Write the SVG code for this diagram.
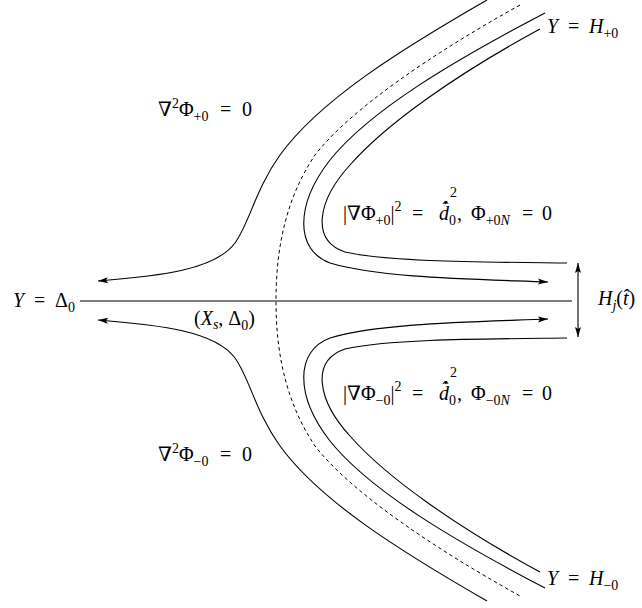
<svg xmlns="http://www.w3.org/2000/svg" width="642" height="608" viewBox="0 0 642 608">
<style>
.ln{fill:none;stroke:#000;stroke-width:1.1}
.dash{fill:none;stroke:#000;stroke-width:1;stroke-dasharray:3.5,3}
text{font-family:"Liberation Serif","DejaVu Serif",serif;font-size:20px;fill:#000}
.i{font-style:italic}
.s{font-size:14px}
</style>
<defs>
<marker id="ah" markerUnits="userSpaceOnUse" markerWidth="11" markerHeight="7" refX="10" refY="3" orient="auto-start-reverse" overflow="visible">
<path d="M0,0 L10,3 L0,6 L2,3 z" fill="#000"/>
</marker>
</defs>
<rect width="642" height="608" fill="#fff"/>
<g id="connectors">
<line class="ln" x1="80" y1="301" x2="572" y2="301"/>
<path class="ln" marker-start="url(#ah)" d="M98,281 C160,276 215,270 235,243 C250,222 255,190 280,155 C320,100 400,50 487,0"/>
<path class="ln" marker-start="url(#ah)" d="M98,320 C160,325 215,331 235,358 C250,379 255,411 280,446 C320,501 400,551 487,601"/>
<path class="dash" d="M520,5 C430,55 350,110 315,155 C285,200 276,250 276,301 C276,351 285,401 315,446 C350,491 430,546 520,596"/>
<path class="ln" marker-end="url(#ah)" d="M545,13 C455,60 370,110 330,160 C295,205 295,250 330,263 C380,278 470,279 548,282"/>
<path class="ln" marker-end="url(#ah)" d="M545,588 C455,541 370,491 330,441 C295,396 295,351 330,338 C380,323 470,322 548,319"/>
<path class="ln" d="M540,29 C455,75 385,125 350,165 C318,200 310,240 345,252 C390,262 480,262 567,263"/>
<path class="ln" d="M540,572 C455,526 385,476 350,436 C318,401 310,361 345,349 C390,339 480,339 567,338"/>
<line class="ln" marker-start="url(#ah)" marker-end="url(#ah)" x1="578" y1="263" x2="578" y2="337"/>
</g>
<g id="label-laplace-plus">
<text y="116"><tspan x="158">∇</tspan><tspan class="s" dy="-8">2</tspan><tspan dy="8">Φ</tspan><tspan class="s" dy="5">+0</tspan><tspan x="220" dy="-5">=</tspan><tspan x="242">0</tspan></text>
</g>
<g id="label-laplace-minus">
<text y="461"><tspan x="158">∇</tspan><tspan class="s" dy="-8">2</tspan><tspan dy="8">Φ</tspan><tspan class="s" dy="5">−0</tspan><tspan x="220" dy="-5">=</tspan><tspan x="242">0</tspan></text>
</g>
<g id="label-eikonal-plus">
<text><tspan x="343" y="220">|∇Φ</tspan><tspan class="s" y="225">+0</tspan><tspan y="220">|</tspan><tspan class="s" y="211">2</tspan><tspan x="412" y="220">=</tspan><tspan class="i" x="439" y="220">d̂̇</tspan><tspan class="s" x="450" y="197">2</tspan><tspan class="s" x="449" y="225">0</tspan><tspan x="457" y="220">,</tspan><tspan x="471" y="220">Φ</tspan><tspan class="s" y="225">+0</tspan><tspan class="s i">N</tspan><tspan x="522" y="220">=</tspan><tspan x="542">0</tspan></text>
</g>
<g id="label-eikonal-minus">
<text><tspan x="343" y="400">|∇Φ</tspan><tspan class="s" y="405">−0</tspan><tspan y="400">|</tspan><tspan class="s" y="391">2</tspan><tspan x="412" y="400">=</tspan><tspan class="i" x="439" y="400">d̂̇</tspan><tspan class="s" x="450" y="377">2</tspan><tspan class="s" x="449" y="405">0</tspan><tspan x="457" y="400">,</tspan><tspan x="471" y="400">Φ</tspan><tspan class="s" y="405">−0</tspan><tspan class="s i">N</tspan><tspan x="522" y="400">=</tspan><tspan x="542">0</tspan></text>
</g>
<g id="label-axis">
<text y="307"><tspan class="i" x="13">Y</tspan><tspan x="34">=</tspan><tspan x="55">Δ</tspan><tspan class="s" dy="5">0</tspan></text>
</g>
<g id="label-stagnation">
<text y="325"><tspan x="194">(</tspan><tspan class="i">X</tspan><tspan class="s i" dy="4">s</tspan><tspan dy="-4">, Δ</tspan><tspan class="s" dy="5">0</tspan><tspan dy="-5">)</tspan></text>
</g>
<g id="label-H-plus">
<text y="33"><tspan class="i" x="547">Y</tspan><tspan x="568">=</tspan><tspan class="i" x="589">H</tspan><tspan class="s" dy="5">+0</tspan></text>
</g>
<g id="label-H-minus">
<text y="585"><tspan class="i" x="547">Y</tspan><tspan x="568">=</tspan><tspan class="i" x="589">H</tspan><tspan class="s" dy="5">−0</tspan></text>
</g>
<g id="label-Hj">
<text><tspan class="i" x="598" y="305">H</tspan><tspan class="s i" y="310">j</tspan><tspan y="305">(</tspan><tspan class="i">t̂</tspan><tspan>)</tspan></text>
</g>
</svg>
